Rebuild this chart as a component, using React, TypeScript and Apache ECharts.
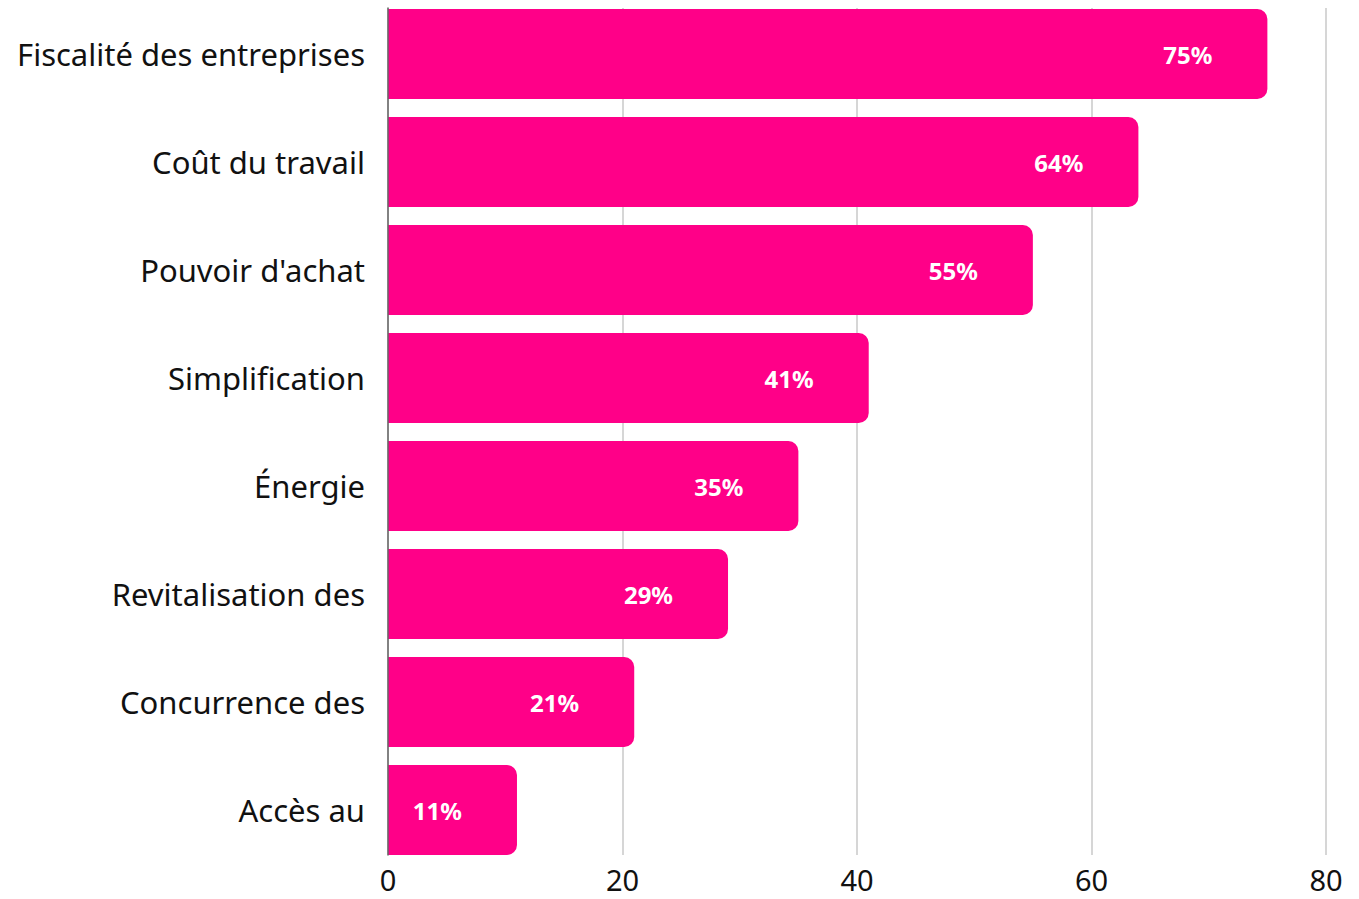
import React, { useEffect, useRef } from "react";
import * as echarts from "echarts";

const categories = [
  "Fiscalité des entreprises",
  "Coût du travail",
  "Pouvoir d'achat",
  "Simplification",
  "Énergie",
  "Revitalisation des",
  "Concurrence des",
  "Accès au",
];
const values = [75, 64, 55, 41, 35, 29, 21, 11];
const xTicks = [0, 20, 40, 60, 80];

export default function App() {
  const ref = useRef<HTMLDivElement>(null);
  useEffect(() => {
    document.body.style.margin = "0";
    const chart = echarts.init(ref.current!, null, { renderer: "svg" });
    const font = "'Noto Sans', sans-serif";
    chart.setOption({
      animation: false,
      grid: [
        { left: 388, right: 33, top: -1, bottom: 35, containLabel: false },
        { left: 388, right: 33, top: 8, bottom: 44, containLabel: false },
      ],
      xAxis: [
        {
          gridIndex: 0,
          type: "value",
          min: xTicks[0],
          max: xTicks[xTicks.length - 1],
          interval: 20,
          show: false,
        },
        {
          gridIndex: 1,
          type: "value",
          min: xTicks[0],
          max: xTicks[xTicks.length - 1],
          interval: 20,
          axisLine: { show: false },
          axisTick: { show: false },
          axisLabel: {
            color: "#111",
            fontSize: 29,
            fontFamily: font,
            margin: 10,
          },
          splitLine: { show: true, lineStyle: { color: "#c8c8c8", width: 1.5 } },
        },
      ],
      yAxis: [
        {
          gridIndex: 0,
          type: "category",
          data: categories,
          inverse: true,
          axisLine: { show: false },
          axisTick: { show: false },
          axisLabel: {
            color: "#111",
            fontSize: 31,
            fontFamily: font,
            margin: 23,
          },
        },
        {
          gridIndex: 1,
          type: "category",
          data: categories,
          inverse: true,
          axisLine: { show: true, lineStyle: { color: "#666", width: 1.5 } },
          axisTick: { show: false },
          axisLabel: { show: false },
          z: 10,
        },
      ],
      series: [
        {
          type: "bar",
          xAxisIndex: 0,
          yAxisIndex: 0,
          data: values,
          barWidth: 90,
          z: 5,
          itemStyle: { color: "#FF0088", borderRadius: [0, 10, 10, 0] },
          label: {
            show: true,
            position: "insideRight",
            distance: 55,
            formatter: "{c}%",
            color: "#fff",
            fontSize: 24,
            fontWeight: "bold",
            fontFamily: font,
          },
        },
      ],
    });
    return () => chart.dispose();
  }, []);
  return <div ref={ref} style={{ width: 1359, height: 899 }} />;
}
